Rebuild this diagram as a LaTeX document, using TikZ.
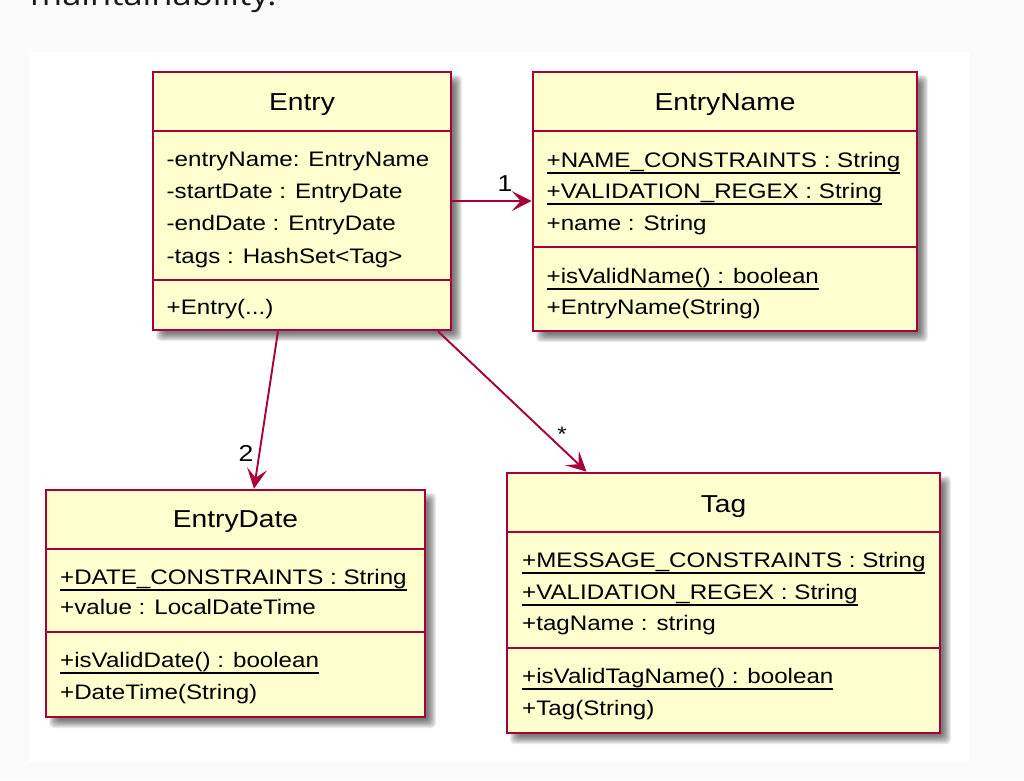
\documentclass[tikz,border=0pt]{standalone}
\usepackage{fontspec}
\setmainfont{Liberation Sans}[FakeStretch=1.15]
\newfontfamily\topfont{Open Sans}[FakeStretch=1.15]
\usetikzlibrary{arrows.meta,calc}
\definecolor{umlfill}{HTML}{FEFECE}
\definecolor{umlline}{HTML}{A80036}
\definecolor{pagebg}{RGB}{251,251,251}
\pgfdeclarelayer{panel}
\pgfdeclarelayer{shade}
\pgfsetlayers{panel,shade,main}
\newcommand{\ulx}[1]{\setbox0\hbox{#1}\rlap{\rule[-6.8pt]{\wd0}{1.7pt}}\box0}
\tikzset{
  umlbox/.style={draw=umlline, fill=umlfill, line width=2.6pt, inner sep=0pt},
  sepline/.style={draw=umlline, line width=2.2pt},
  attr/.style={anchor=base west, inner sep=0pt, font=\fontsize{21}{25}\selectfont},
  ttl/.style={anchor=base, inner sep=0pt, font=\fontsize{24.5}{29}\selectfont},
  rel/.style={draw=umlline, line width=1.9pt, -{Stealth[length=20pt,width=20pt,inset=9pt]}},
  mult/.style={anchor=base, inner sep=0pt, font=\fontsize{23}{27}\selectfont, text=black},
}
% name, x1, y1, x2, y2, sep1, sep2
\newcommand{\umlclass}[7]{%
  \begin{pgfonlayer}{shade}
    \foreach \d in {-4,...,4}
      \fill[black, opacity=0.075, rounded corners=4pt]
        ({#2+7-\d},{#3+7-\d}) rectangle ({#4+7+\d},{#5+7+\d});
  \end{pgfonlayer}
  \node[umlbox, minimum width={(#4-#2)*1pt}, minimum height={(#5-#3)*1pt}]
    (#1) at ({(#2+#4)/2},{(#3+#5)/2}) {};
  \draw[sepline] (#1.west |- 0,#6) -- (#1.east |- 0,#6);
  \draw[sepline] (#1.west |- 0,#7) -- (#1.east |- 0,#7);
}
\begin{document}
\begin{tikzpicture}[x=1pt, y=-1pt]
\useasboundingbox (0,0) rectangle (1024,780);
\begin{pgfonlayer}{panel}
  \fill[pagebg] (0,0) rectangle (1024,780);
  \fill[white] (29,53) rectangle (969,762);
\end{pgfonlayer}
\node[anchor=base west, inner sep=0pt, font=\topfont\fontsize{30}{36}\selectfont, text=black!90] (toptext) at (30,5) {maintainability.};

% Entry
\umlclass{entry}{153}{72}{451}{330}{131}{280}
\node[ttl] (entryT) at (302,110.5) {Entry};
\node[attr] (entryA1) at (166.5,166) {-entryName: EntryName};
\node[attr] (entryA2) at (166.5,198) {-startDate : EntryDate};
\node[attr] (entryA3) at (166.5,230) {-endDate : EntryDate};
\node[attr] (entryA4) at (166.5,263) {-tags : HashSet<Tag>};
\node[attr] (entryM1) at (166.5,314) {+Entry(...)};

% EntryName
\umlclass{entryname}{533}{72}{917}{331}{131}{247}
\node[ttl] (enT) at (725,110.5) {EntryName};
\node[attr] (enA1) at (546.5,167) {\ulx{+NAME\_CONSTRAINTS : String}};
\node[attr] (enA2) at (546.5,198) {\ulx{+VALIDATION\_REGEX : String}};
\node[attr] (enA3) at (546.5,230) {+name : String};
\node[attr] (enM1) at (546.5,283) {\ulx{+isValidName() : boolean}};
\node[attr] (enM2) at (546.5,314) {+EntryName(String)};

% EntryDate
\umlclass{entrydate}{46}{490}{425}{717}{549}{632}
\node[ttl] (edT) at (235.5,527.7) {EntryDate};
\node[attr] (edA1) at (60,584) {\ulx{+DATE\_CONSTRAINTS : String}};
\node[attr] (edA2) at (60,614) {+value : LocalDateTime};
\node[attr] (edM1) at (60,667) {\ulx{+isValidDate() : boolean}};
\node[attr] (edM2) at (60,699) {+DateTime(String)};

% Tag
\umlclass{tag}{507}{473}{940}{733}{532}{648}
\node[ttl] (tagT) at (723.5,512) {Tag};
\node[attr] (tagA1) at (522,567) {\ulx{+MESSAGE\_CONSTRAINTS : String}};
\node[attr] (tagA2) at (522,599) {\ulx{+VALIDATION\_REGEX : String}};
\node[attr] (tagA3) at (522,630.5) {+tagName : string};
\node[attr] (tagM1) at (522,683) {\ulx{+isValidTagName() : boolean}};
\node[attr] (tagM2) at (522,715.5) {+Tag(String)};

% relations
\draw[rel] (entry.east) -- (entryname.west |- entry.east);
\draw[rel] ([xshift=-24pt]entry.south) -- ([xshift=18.5pt]entrydate.north);
\draw[rel] ([xshift=136pt]entry.south) -- ([xshift=-137pt]tag.north);
\node[mult] (m1) at (505,191) {1};
\node[mult] (m2) at (246,461) {2};
\node[mult, font=\fontsize{21}{25}\selectfont] (m3) at (562,441) {*};
\end{tikzpicture}
\end{document}
